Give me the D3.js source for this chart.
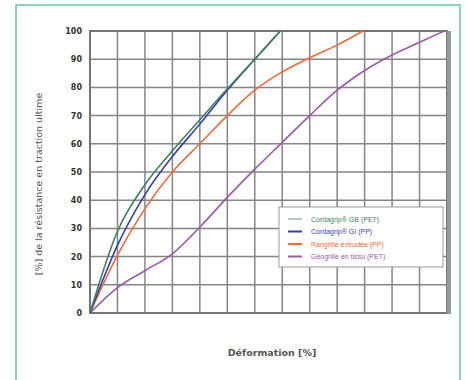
<!DOCTYPE html>
<html><head><meta charset="utf-8">
<script src="https://cdn.jsdelivr.net/npm/d3@7"></script>
<style>body{margin:0;background:#fff}svg{display:block}</style>
</head><body>
<svg id="c" width="465" height="380"></svg>
<script>
const yTicks = [0,10,20,30,40,50,60,70,80,90,100];
const xGrid = d3.range(0,14);
const seriesNames = ["Cordagrip® GB (PET)","Cordagrip® GI (PP)","Rangrille extrudée (PP)","Géogrille en tissu (PET)"];
const seriesColors = ["#3f7f5f","#3b3fa8","#f2693a","#9a5aa8"];
const legendLineColors = ["#a8b4ac","#3b3fa8","#f2693a","#9a5aa8"];
const greenX = [0,1,2,3,4,5,6,6.93];
const greenY = [0,29,45.5,57.5,68.5,79.5,90,100];
const blueX = [0,1,2,3,4,5,6,6.93];
const blueY = [0,24,42,55.5,67,79,90,100];
const orangeX = [0,1,2,3,4,5,6,7,8,9,9.94];
const orangeY = [0,20.5,37,50,60,70,79,85.5,90.5,95,100];
const purpleX = [0,1,2,3,4,5,6,7,8,9,10,11,12,12.9];
const purpleY = [0,9,15,21,30.5,41,51,60.5,70,79,86,91.5,96,100];

const svg = d3.select("#c");
svg.append("rect").attr("x",16).attr("y",5).attr("width",444).attr("height",390)
  .attr("fill","none").attr("stroke","#6ccf9e").attr("stroke-width",1.6);

const L=90,R=447,T=31,B=313;
const x = d3.scaleLinear().domain([0,13]).range([L,R]);
const y = d3.scaleLinear().domain([0,100]).range([B,T]);

const g = svg.append("g");
g.selectAll(".vg").data(xGrid).join("line")
  .attr("x1",d=>x(d)).attr("x2",d=>x(d)).attr("y1",T).attr("y2",B)
  .attr("stroke","#858585").attr("stroke-width",1.5);
g.selectAll(".hg").data(yTicks).join("line")
  .attr("x1",L).attr("x2",R).attr("y1",d=>y(d)).attr("y2",d=>y(d))
  .attr("stroke","#858585").attr("stroke-width",1.5);
g.append("rect").attr("x",L).attr("y",T).attr("width",R-L).attr("height",B-T)
  .attr("fill","none").attr("stroke","#707070").attr("stroke-width",1.8);
g.append("line").attr("x1",R+2).attr("x2",R+2).attr("y1",T).attr("y2",B+1)
  .attr("stroke","#999").attr("stroke-width",4);

const ax = d3.axisLeft(y).tickValues(yTicks).tickSize(0).tickPadding(8);
const ag = svg.append("g").attr("transform",`translate(${L},0)`).call(ax);
ag.select(".domain").remove();
ag.selectAll("text").attr("font-family","DejaVu Sans, sans-serif")
  .attr("font-size",8).attr("font-weight","bold").attr("fill","#333");

const line = d3.line().x(d=>x(d[0])).y(d=>y(d[1])).curve(d3.curveMonotoneX);
const series = [
  d3.zip(purpleX,purpleY), d3.zip(orangeX,orangeY), d3.zip(blueX,blueY), d3.zip(greenX,greenY)
];
const order = [3,2,1,0];
series.forEach((s,i)=>{
  g.append("path").datum(s).attr("d",line).attr("fill","none")
   .attr("stroke",seriesColors[order[i]]).attr("stroke-width",1.6);
});

const lg = svg.append("g");
lg.append("rect").attr("x",279).attr("y",207).attr("width",164).attr("height",60)
  .attr("fill","#fff").attr("stroke","#999").attr("stroke-width",1);
seriesNames.forEach((n,i)=>{
  const yy = 219 + i*12.5;
  lg.append("line").attr("x1",288).attr("x2",302).attr("y1",yy).attr("y2",yy)
    .attr("stroke",legendLineColors[i]).attr("stroke-width",i===0?1.5:2);
  lg.append("text").attr("x",311).attr("y",yy+2.5).text(n)
    .attr("font-family","Liberation Sans, Arial, sans-serif").attr("font-size",7)
    .attr("fill",seriesColors[i]);
});

svg.append("text").attr("transform","translate(42,184) rotate(-90)")
  .attr("text-anchor","middle").attr("font-family","DejaVu Sans, sans-serif")
  .attr("font-size",9.5).attr("fill","#555").text("[%] de la résistance en traction ultime");
svg.append("text").attr("x",272).attr("y",356).attr("text-anchor","middle")
  .attr("font-family","DejaVu Sans, sans-serif").attr("font-size",9.5).attr("font-weight","bold")
  .attr("fill","#555").text("Déformation [%]");
</script>
</body></html>
